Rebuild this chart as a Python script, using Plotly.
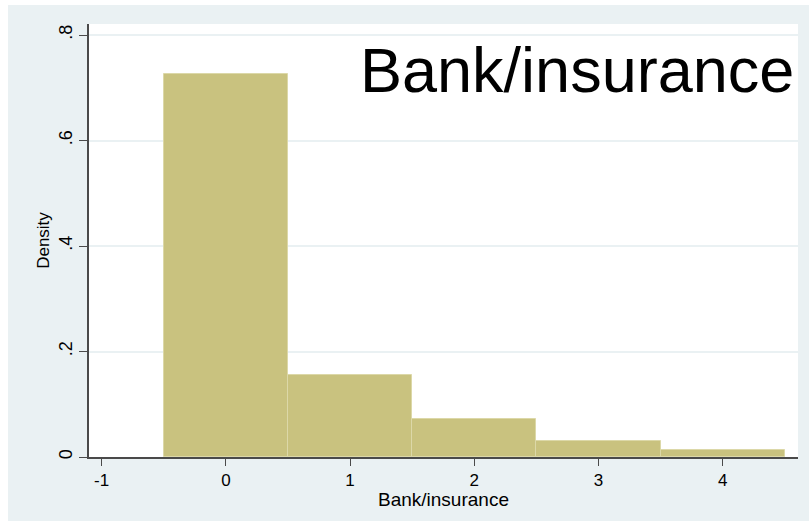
import plotly.graph_objects as go

# Histogram of Bank/insurance (bin width 1, density scale)
bin_centers = [0, 1, 2, 3, 4]
densities = [0.726, 0.1555, 0.0715, 0.031, 0.0133]

x_ticks = [-1, 0, 1, 2, 3, 4]
x_tick_labels = ["-1", "0", "1", "2", "3", "4"]
y_ticks = [0, 0.2, 0.4, 0.6, 0.8]
y_tick_labels = ["0", ".2", ".4", ".6", ".8"]

title_text = "Bank/insurance"
x_title = "Bank/insurance"
y_title = "Density"

BG = "#EAF1F3"
BAR = "#C9C27F"
BAR_EDGE = "#DCD8A8"
AXIS = "#4A4A4A"
FONT = "Liberation Sans, Arial, sans-serif"

W, H = 809, 526
L, R, T, B = 89, 11, 24, 69
pw, ph = W - L - R, H - T - B


def px_x(p):
    return (p - L) / pw


def px_y(p):
    return (H - B - p) / ph


fig = go.Figure()
fig.add_trace(go.Bar(
    x=bin_centers,
    y=densities,
    width=1,
    marker=dict(color=BAR, line=dict(color=BAR_EDGE, width=1)),
    showlegend=False,
))

# white frame around the graph region
shapes = [
    dict(type="rect", xref="paper", yref="paper", x0=px_x(0), x1=px_x(8),
         y0=px_y(H), y1=px_y(0), fillcolor="white", line_width=0, layer="below"),
    dict(type="rect", xref="paper", yref="paper", x0=px_x(0), x1=px_x(W),
         y0=px_y(5), y1=px_y(0), fillcolor="white", line_width=0, layer="below"),
    dict(type="rect", xref="paper", yref="paper", x0=px_x(0), x1=px_x(W),
         y0=px_y(H), y1=px_y(521), fillcolor="white", line_width=0, layer="below"),
]

fig.update_layout(
    width=W, height=H,
    margin=dict(l=L, r=R, t=T, b=B, pad=0),
    paper_bgcolor=BG,
    plot_bgcolor="white",
    font=dict(family=FONT, color="black"),
    bargap=0,
    shapes=shapes,
    annotations=[
        dict(text=title_text, xref="paper", yref="paper",
             x=px_x(796), y=px_y(70), xanchor="right", yanchor="middle",
             showarrow=False, font=dict(size=63, family=FONT, color="black")),
        dict(text=x_title, xref="paper", yref="paper",
             x=0.5, y=px_y(499), xanchor="center", yanchor="middle",
             showarrow=False, font=dict(size=19, family=FONT, color="black")),
    ],
)

fig.update_xaxes(
    range=[-1.102, 4.606],
    tickvals=x_ticks, ticktext=x_tick_labels,
    ticks="outside", ticklen=7, tickwidth=1.3, tickcolor=AXIS,
    tickfont=dict(size=17),
    showline=True, linecolor=AXIS, linewidth=1.5,
    showgrid=False, zeroline=False,
    automargin=False,
)
fig.update_yaxes(
    range=[0, 0.8209],
    tickvals=y_ticks, ticktext=y_tick_labels, tickangle=-90,
    ticks="outside", ticklen=8, tickwidth=1.3, tickcolor=AXIS,
    tickfont=dict(size=18),
    showline=True, linecolor=AXIS, linewidth=1.5,
    showgrid=True, gridcolor=BG, gridwidth=1.5,
    zeroline=False,
    title=dict(text=y_title, font=dict(size=17), standoff=2),
    automargin=False,
)

fig.write_html("out.html")
